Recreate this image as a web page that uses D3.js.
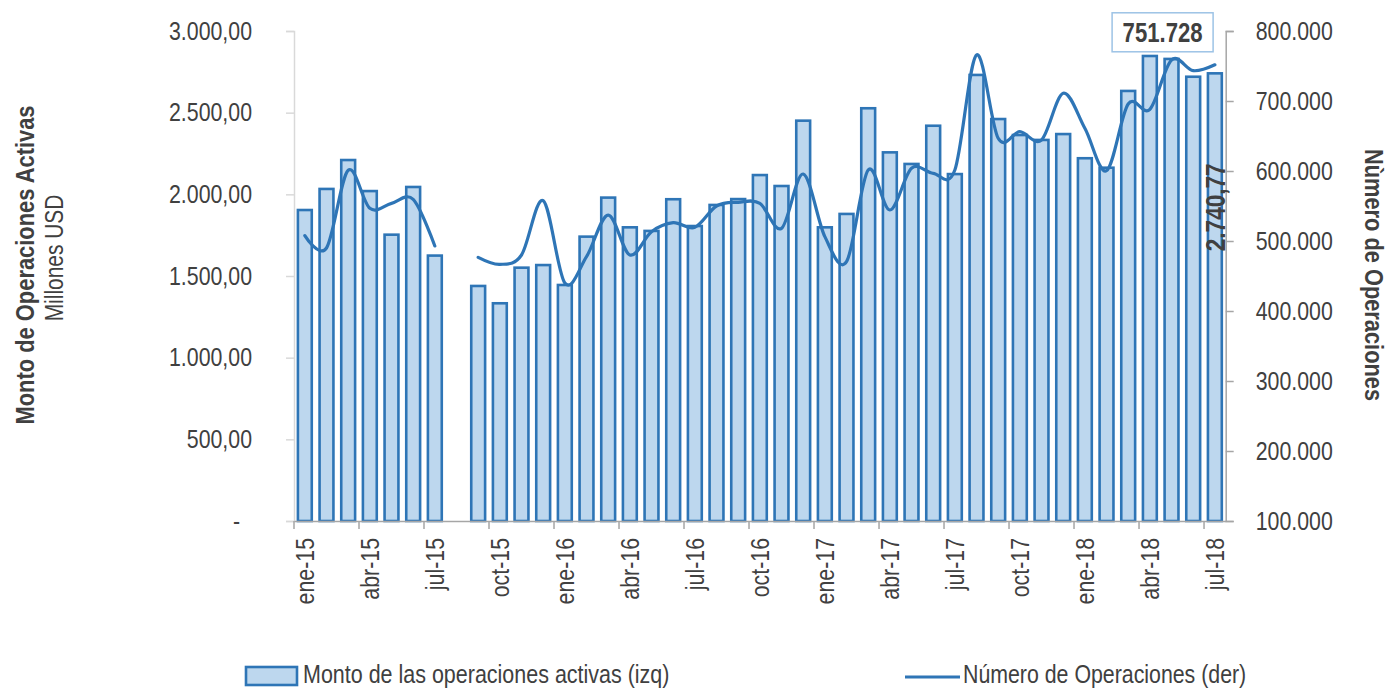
<!DOCTYPE html>
<html>
<head>
<meta charset="utf-8">
<script src="https://cdn.jsdelivr.net/npm/d3@7"></script>
<style>
  html, body { margin: 0; padding: 0; background: #fff; }
  svg { display: block; }
  text { font-family: "Liberation Sans", Arial, sans-serif; fill: #404040; }
</style>
</head>
<body>
<svg id="chart" width="1389" height="691"></svg>
<script>
// Monthly series, Jan 2015 – Jul 2018 (Aug 2015 has no data)
const months = [
  "ene-15","feb-15","mar-15","abr-15","may-15","jun-15","jul-15","ago-15","sep-15","oct-15","nov-15","dic-15",
  "ene-16","feb-16","mar-16","abr-16","may-16","jun-16","jul-16","ago-16","sep-16","oct-16","nov-16","dic-16",
  "ene-17","feb-17","mar-17","abr-17","may-17","jun-17","jul-17","ago-17","sep-17","oct-17","nov-17","dic-17",
  "ene-18","feb-18","mar-18","abr-18","may-18","jun-18","jul-18"
];

// Monto de las operaciones activas, millones USD (left axis)
const monto = [
  1904, 2033, 2210, 2020, 1753, 2045, 1625, null, 1439, 1333, 1551, 1567,
  1445, 1741, 1980, 1798, 1776, 1970, 1806, 1935, 1971, 2118, 2051, 2451,
  1798, 1880, 2527, 2257, 2186, 2420, 2124, 2731, 2461, 2363, 2333, 2369,
  2221, 2163, 2633, 2847, 2829, 2720, 2740.77
];

// Número de operaciones (right axis)
const operaciones = [
  507600, 490000, 601000, 546700, 553800, 559500, 492900, null, 476700, 466700, 480000, 557600,
  440000, 477600, 537100, 480000, 513300, 526200, 519500, 550000, 555300, 553800, 518100, 595700,
  506200, 470400, 601400, 544300, 603800, 596700, 601400, 765700, 646700, 656200, 644300, 711000,
  661000, 600400, 695700, 688100, 758600, 743300, 751728
];

const leftTicks = [0, 500, 1000, 1500, 2000, 2500, 3000];
const rightTicks = [100000, 200000, 300000, 400000, 500000, 600000, 700000, 800000];
const labelMonths = months.filter((m, i) => i % 3 === 0);

const seriesNames = ["Monto de las operaciones activas (izq)", "Número de Operaciones (der)"];

const barFill = "#bdd7ee";
const blue = "#2e75b6";

const svg = d3.select("#chart");
const plot = { left: 294, right: 1225.7, top: 31, bottom: 521 };

// Condensed lettering: squeeze each text run to 82% of its natural width
function narrow(sel) {
  sel.each(function () {
    const len = this.getComputedTextLength();
    if (len > 0) {
      this.setAttribute("textLength", (len * 0.82).toFixed(2));
      this.setAttribute("lengthAdjust", "spacingAndGlyphs");
    }
  });
}

const x = d3.scaleBand().domain(months).range([plot.left, plot.right])
  .paddingInner(0.36).paddingOuter(0.18);
const step = x.step();
const cx = m => x(m) + x.bandwidth() / 2;

const yL = d3.scaleLinear().domain([0, 3000]).range([plot.bottom, plot.top]);
const yR = d3.scaleLinear().domain([100000, 800000]).range([plot.bottom, plot.top]);

const loc = d3.formatLocale({ decimal: ",", thousands: ".", grouping: [3], currency: ["", ""] });
const fmtL = v => v === 0 ? "-" : loc.format(",.2f")(v);
const fmtR = loc.format(",.0f");

// Bars
const data = months.map((m, i) => ({ m, monto: monto[i], ops: operaciones[i] }));
svg.append("g").selectAll("rect")
  .data(data.filter(d => d.monto != null))
  .join("rect")
  .attr("x", d => x(d.m))
  .attr("width", x.bandwidth())
  .attr("y", d => yL(d.monto))
  .attr("height", d => yL(0) - yL(d.monto))
  .attr("fill", barFill)
  .attr("stroke", blue)
  .attr("stroke-width", 2.6);

// Left axis
const gL = svg.append("g").attr("transform", `translate(${plot.left},0)`)
  .call(d3.axisLeft(yL).tickValues(leftTicks).tickFormat(fmtL).tickSize(8).tickPadding(34));
gL.select(".domain").attr("stroke", "#d9d9d9").attr("stroke-width", 1.5);
gL.selectAll(".tick line").attr("stroke", "#d9d9d9").attr("stroke-width", 1.5);
gL.selectAll(".tick text").attr("font-size", 26).attr("fill", "#404040")
  .attr("font-family", null)
  .attr("dx", d => d === 0 ? -12 : 0)
  .call(narrow);

// Right axis
const gR = svg.append("g").attr("transform", `translate(${plot.right},0)`)
  .call(d3.axisRight(yR).tickValues(rightTicks).tickFormat(fmtR).tickSize(8).tickPadding(22));
gR.select(".domain").attr("stroke", "#a6a6a6").attr("stroke-width", 1.5);
gR.selectAll(".tick line").attr("stroke", "#a6a6a6").attr("stroke-width", 1.5);
gR.selectAll(".tick text").attr("font-size", 26).attr("fill", "#404040")
  .attr("font-family", null)
  .call(narrow);

// Bottom axis: ticks at quarter boundaries, labels centred in the month
const gX = svg.append("g").attr("transform", `translate(0,${plot.bottom})`)
  .call(d3.axisBottom(x).tickValues(labelMonths).tickSize(0).tickFormat(d => d));
gX.select(".domain").attr("stroke", "#a6a6a6").attr("stroke-width", 1.5);
gX.selectAll(".tick line").remove();
gX.selectAll(".tick").append("line")
  .attr("x1", -step / 2).attr("x2", -step / 2)
  .attr("y1", 0).attr("y2", 8)
  .attr("stroke", "#a6a6a6").attr("stroke-width", 1.5);
gX.selectAll(".tick text")
  .attr("font-size", 26)
  .attr("font-family", null)
  .attr("fill", "#404040")
  .attr("transform", "rotate(-90)")
  .attr("text-anchor", "end")
  .attr("x", -17)
  .attr("y", 0)
  .attr("dy", "0.36em")
  .call(narrow);

// Line with smoothing, broken where data is missing
const line = d3.line()
  .defined(d => d.ops != null)
  .x(d => cx(d.m))
  .y(d => yR(d.ops))
  .curve(d3.curveCardinal.tension(0));
svg.append("path")
  .datum(data)
  .attr("d", line)
  .attr("fill", "none")
  .attr("stroke", blue)
  .attr("stroke-width", 3.2)
  .attr("stroke-linecap", "round")
  .attr("stroke-linejoin", "round");

// Value labels for the latest month
const last = data[data.length - 1];
const boxCx = x("may-18") - 2;
const boxG = svg.append("g");
boxG.append("rect")
  .attr("x", boxCx - 50.5).attr("y", yR(last.ops) - 52)
  .attr("width", 101).attr("height", 39)
  .attr("fill", "#fff").attr("stroke", "#9dc3e6").attr("stroke-width", 1.5);
boxG.append("text")
  .attr("x", boxCx).attr("y", yR(last.ops) - 32.5)
  .attr("dy", "0.36em")
  .attr("text-anchor", "middle")
  .attr("font-size", 27).attr("font-weight", "bold").attr("fill", "#333")
  .text(fmtR(last.ops))
  .call(narrow);

svg.append("text")
  .attr("transform", `translate(${cx(last.m)},${yL(last.monto) + 134}) rotate(-90)`)
  .attr("text-anchor", "middle")
  .attr("dy", "0.36em")
  .attr("font-size", 27.5).attr("font-weight", "bold").attr("fill", "#333")
  .text(loc.format(",.2f")(last.monto))
  .call(narrow);

// Axis titles
svg.append("text")
  .attr("transform", `translate(24,265) rotate(-90)`)
  .attr("text-anchor", "middle").attr("dy", "0.36em")
  .attr("font-size", 26.7).attr("font-weight", "bold").attr("fill", "#333")
  .text("Monto de Operaciones Activas")
  .call(narrow);
svg.append("text")
  .attr("transform", `translate(54,258) rotate(-90)`)
  .attr("text-anchor", "middle").attr("dy", "0.36em")
  .attr("font-size", 25.5).attr("fill", "#404040")
  .text("Millones USD")
  .call(narrow);
svg.append("text")
  .attr("transform", `translate(1375,275) rotate(90)`)
  .attr("text-anchor", "middle").attr("dy", "0.36em")
  .attr("font-size", 26.6).attr("font-weight", "bold").attr("fill", "#333")
  .text("Nùmero de Operaciones")
  .call(narrow);

// Legend
const lg = svg.append("g");
lg.append("rect").attr("x", 246).attr("y", 667).attr("width", 51).attr("height", 18)
  .attr("fill", barFill).attr("stroke", blue).attr("stroke-width", 2.6);
lg.append("text").attr("x", 303).attr("y", 674).attr("dy", "0.36em")
  .attr("font-size", 26.2).text(seriesNames[0]).call(narrow);
lg.append("line").attr("x1", 905).attr("x2", 960).attr("y1", 677).attr("y2", 677)
  .attr("stroke", blue).attr("stroke-width", 3.2);
lg.append("text").attr("x", 963).attr("y", 674).attr("dy", "0.36em")
  .attr("font-size", 26).text(seriesNames[1]).call(narrow);
</script>
</body>
</html>
